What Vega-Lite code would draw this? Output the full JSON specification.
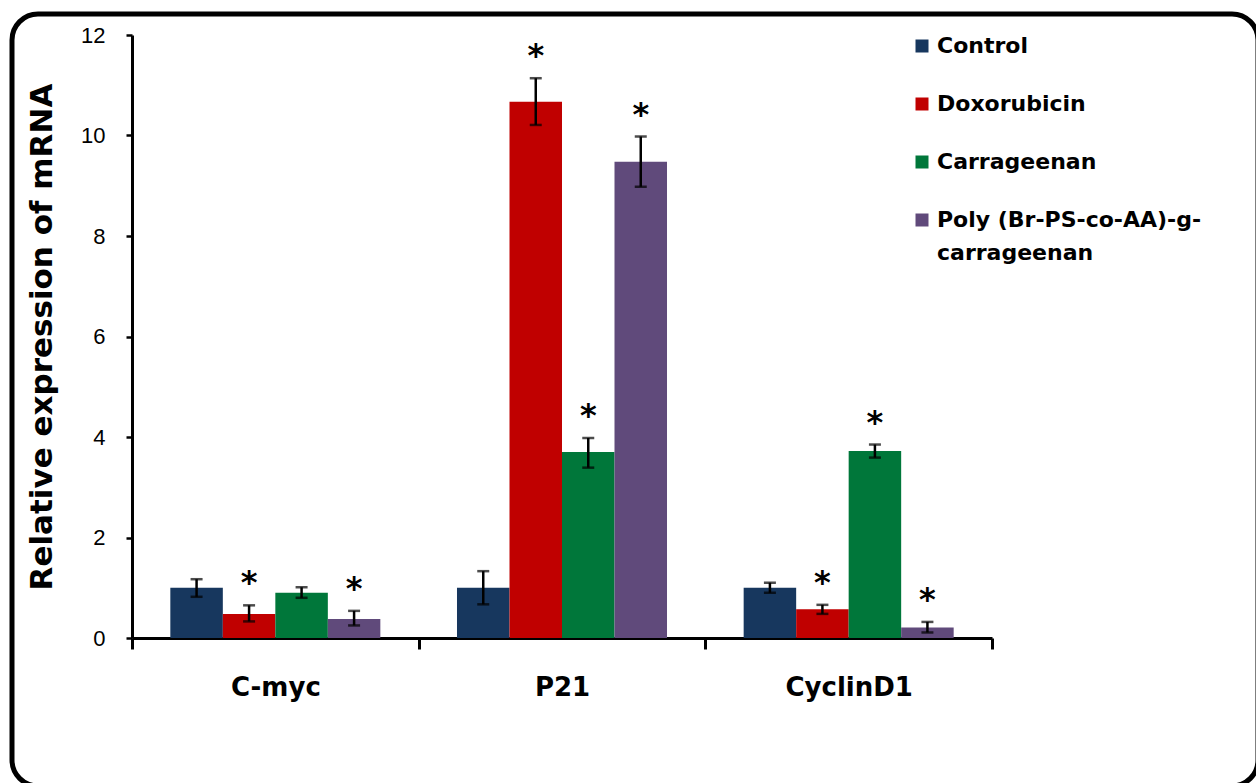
{
  "$schema": "https://vega.github.io/schema/vega-lite/v6.json",
  "width": 1246,
  "height": 772,
  "autosize": {"type": "none"},
  "padding": {"left": 12, "top": 14, "right": 0, "bottom": 0},
  "config": {
    "view": {"stroke": "#000000", "strokeWidth": 5, "cornerRadius": 26, "fill": "#ffffff"},
    "background": "#ffffff",
    "style": {"guide-label": {"lineHeight": 33}},
    "axisY": {
      "titleFont": "DejaVu Sans",
      "titleFontWeight": "bold",
      "titleFontSize": 31,
      "titleColor": "#000000",
      "titlePadding": 22,
      "grid": false,
      "labelFont": "Liberation Sans",
      "labelFontSize": 22,
      "labelColor": "#000000",
      "labelPadding": 21,
      "domainColor": "#000000",
      "domainWidth": 3,
      "tickColor": "#000000",
      "tickWidth": 2.5,
      "tickSize": 6
    },
    "axisX": {
      "labelAngle": 0,
      "labelFont": "DejaVu Sans",
      "labelFontWeight": "bold",
      "labelFontSize": 26,
      "labelColor": "#000000",
      "labelPadding": 25,
      "labelBaseline": "top",
      "domainColor": "#000000",
      "domainWidth": 3,
      "tickColor": "#000000",
      "tickWidth": 3,
      "tickSize": 11,
      "tickBand": "extent"
    }
  },
  "data": {
    "values": [
      {"gene": "C-myc", "group": "Control", "mean": 1.0, "lo": 0.82, "hi": 1.17, "sig": false},
      {"gene": "C-myc", "group": "Doxorubicin", "mean": 0.48, "lo": 0.33, "hi": 0.65, "sig": true},
      {"gene": "C-myc", "group": "Carrageenan", "mean": 0.9, "lo": 0.8, "hi": 1.01, "sig": false},
      {"gene": "C-myc", "group": "Poly (Br-PS-co-AA)-g-carrageenan", "mean": 0.38, "lo": 0.25, "hi": 0.54, "sig": true},
      {"gene": "P21", "group": "Control", "mean": 1.0, "lo": 0.67, "hi": 1.33, "sig": false},
      {"gene": "P21", "group": "Doxorubicin", "mean": 10.67, "lo": 10.21, "hi": 11.14, "sig": true},
      {"gene": "P21", "group": "Carrageenan", "mean": 3.7, "lo": 3.39, "hi": 3.98, "sig": true},
      {"gene": "P21", "group": "Poly (Br-PS-co-AA)-g-carrageenan", "mean": 9.48, "lo": 8.98, "hi": 9.98, "sig": true},
      {"gene": "CyclinD1", "group": "Control", "mean": 1.0, "lo": 0.9, "hi": 1.1, "sig": false},
      {"gene": "CyclinD1", "group": "Doxorubicin", "mean": 0.57, "lo": 0.48, "hi": 0.66, "sig": true},
      {"gene": "CyclinD1", "group": "Carrageenan", "mean": 3.72, "lo": 3.59, "hi": 3.85, "sig": true},
      {"gene": "CyclinD1", "group": "Poly (Br-PS-co-AA)-g-carrageenan", "mean": 0.21, "lo": 0.11, "hi": 0.32, "sig": true}
    ]
  },
  "encoding": {
    "x": {
      "field": "gene",
      "type": "nominal",
      "sort": ["C-myc", "P21", "CyclinD1"],
      "scale": {"range": [120, 980], "paddingInner": 0, "paddingOuter": 0},
      "axis": {"title": null, "offset": -148}
    },
    "xOffset": {
      "field": "group",
      "type": "nominal",
      "sort": ["Control", "Doxorubicin", "Carrageenan", "Poly (Br-PS-co-AA)-g-carrageenan"],
      "scale": {"paddingInner": 0, "paddingOuter": 0.73}
    }
  },
  "layer": [
    {
      "mark": {"type": "bar"},
      "encoding": {
        "y": {
          "field": "mean",
          "type": "quantitative",
          "title": "Relative expression of mRNA",
          "scale": {"domain": [0, 12], "range": [624, 21]},
          "axis": {"offset": -120, "values": [0, 2, 4, 6, 8, 10, 12], "format": "d"}
        },
        "color": {
          "field": "group",
          "type": "nominal",
          "scale": {
            "domain": ["Control", "Doxorubicin", "Carrageenan", "Poly (Br-PS-co-AA)-g-carrageenan"],
            "range": ["#17375e", "#c00000", "#00773a", "#604a7b"]
          },
          "legend": {
            "orient": "none",
            "legendX": 899,
            "legendY": 21,
            "title": null,
            "symbolType": "square",
            "symbolSize": 169,
            "symbolStrokeWidth": 0,
            "labelFont": "DejaVu Sans",
            "labelFontWeight": "bold",
            "labelFontSize": 22,
            "labelColor": "#000000",
            "labelOffset": 4,
            "labelLimit": 400,
            "rowPadding": 36,
            "labelExpr": "datum.label == 'Poly (Br-PS-co-AA)-g-carrageenan' ? ['Poly (Br-PS-co-AA)-g-', 'carrageenan'] : datum.label"
          }
        }
      }
    },
    {
      "mark": {"type": "rule", "color": "#000000", "strokeWidth": 2.5},
      "encoding": {
        "y": {"field": "lo", "type": "quantitative", "title": "Relative expression of mRNA"},
        "y2": {"field": "hi"}
      }
    },
    {
      "mark": {"type": "tick", "color": "#000000", "thickness": 2.5, "size": 12},
      "encoding": {
        "y": {"field": "hi", "type": "quantitative", "title": "Relative expression of mRNA"}
      }
    },
    {
      "mark": {"type": "tick", "color": "#000000", "thickness": 2.5, "size": 12},
      "encoding": {
        "y": {"field": "lo", "type": "quantitative", "title": "Relative expression of mRNA"}
      }
    },
    {
      "transform": [{"filter": "datum.sig"}],
      "mark": {
        "type": "text",
        "text": "*",
        "font": "DejaVu Sans",
        "fontWeight": "bold",
        "fontSize": 32,
        "color": "#000000",
        "align": "center",
        "baseline": "alphabetic",
        "dy": -12
      },
      "encoding": {
        "y": {"field": "hi", "type": "quantitative", "title": "Relative expression of mRNA"}
      }
    }
  ]
}
